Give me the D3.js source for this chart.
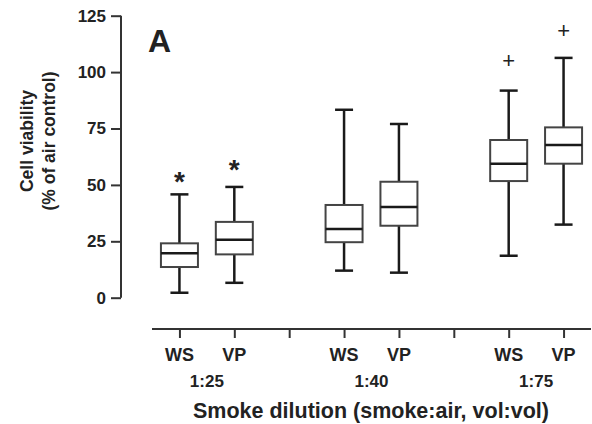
<!DOCTYPE html>
<html>
<head>
<meta charset="utf-8">
<script src="https://cdn.jsdelivr.net/npm/d3@7"></script>
<style>
  html, body { margin: 0; padding: 0; background: #fff; }
  text { font-family: "Liberation Sans", Arial, sans-serif; font-weight: bold; fill: #222; }
</style>
</head>
<body>
<svg id="chart" width="592" height="424"></svg>
<script>
// Dilution groups and smoke types
const dilutions = ["1:25", "1:40", "1:75"];
const smokeTypes = ["WS", "VP"];

// Box statistics per dilution × type, in % of air control
const whiskerLow  = [2.2, 6.6, 12.0, 11.1, 18.6, 32.4];
const quartile1   = [13.6, 19.2, 24.6, 31.9, 51.7, 59.4];
const medians     = [19.7, 25.7, 30.5, 40.2, 59.4, 67.7];
const quartile3   = [24.1, 33.6, 41.1, 51.4, 69.9, 75.5];
const whiskerHigh = [45.8, 49.1, 83.3, 77.0, 91.8, 106.3];

// Significance symbols and the level (centre) they sit at
const sigSymbols = ["*", "*", "", "", "+", "+"];
const sigLevels  = [54.4, 59.7, null, null, 105.4, 118.7];

const yTicks = [0, 25, 50, 75, 100, 125];

const svg = d3.select("#chart");

// Slot positions: WS/VP pairs with an empty slot between dilutions
const boxes = [];
dilutions.forEach((d, g) => {
  smokeTypes.forEach((t, k) => {
    const i = g * 2 + k;
    boxes.push({
      dilution: d, type: t, slot: g * 3 + k + 1,
      lo: whiskerLow[i], q1: quartile1[i], med: medians[i],
      q3: quartile3[i], hi: whiskerHigh[i],
      sym: sigSymbols[i], symY: sigLevels[i]
    });
  });
});

const x = d3.scaleLinear().domain([0.5, 8.5]).range([152, 591]);
const y = d3.scaleLinear().domain([0, 125]).range([297.7, 15.7]);

// Y axis
const yAxis = svg.append("g")
  .attr("transform", "translate(121,0)")
  .call(d3.axisLeft(y).tickValues(yTicks).tickSize(10).tickPadding(5));
yAxis.select(".domain").attr("stroke", "#333").attr("stroke-width", 2)
  .attr("d", `M0,${y(125)}V${y(0)}`);
yAxis.selectAll(".tick line").attr("stroke", "#333").attr("stroke-width", 2);
yAxis.selectAll(".tick text").style("font-size", "17px").attr("fill", "#222");

// X axis (detached below the plot)
const xAxis = svg.append("g")
  .attr("transform", "translate(0,329)")
  .call(d3.axisBottom(x).tickValues(d3.range(1, 9)).tickSize(9).tickFormat(""));
xAxis.select(".domain").attr("stroke", "#333").attr("stroke-width", 2)
  .attr("d", `M${x(0.5)},0H${x(8.5)}`);
xAxis.selectAll(".tick line").attr("stroke", "#333").attr("stroke-width", 2);

// Type labels under each box slot
svg.append("g").selectAll("text").data(boxes).join("text")
  .attr("x", d => x(d.slot)).attr("y", 361)
  .attr("text-anchor", "middle").style("font-size", "18px")
  .text(d => d.type);

// Dilution labels centred under each pair
svg.append("g").selectAll("text").data(dilutions).join("text")
  .attr("x", (d, g) => x(g * 3 + 1.5)).attr("y", 386.5)
  .attr("text-anchor", "middle").style("font-size", "17px")
  .text(d => d);

// Axis titles
svg.append("text")
  .attr("x", 371).attr("y", 417.5).attr("text-anchor", "middle")
  .style("font-size", "21.5px")
  .text("Smoke dilution (smoke:air, vol:vol)");

const yTitle = svg.append("text")
  .attr("transform", "translate(0,141) rotate(-90)")
  .attr("text-anchor", "middle").style("font-size", "17.5px");
yTitle.append("tspan").attr("x", 0).attr("y", 33).text("Cell viability");
yTitle.append("tspan").attr("x", 0).attr("y", 55).text("(% of air control)");

// Panel letter
svg.append("text").attr("x", 148).attr("y", 52)
  .style("font-size", "32px").text("A");

// Box plots
const boxW = 37, capW = 18;
const g = svg.append("g").selectAll("g").data(boxes).join("g");

g.append("line")
  .attr("x1", d => x(d.slot)).attr("x2", d => x(d.slot))
  .attr("y1", d => y(d.hi)).attr("y2", d => y(d.q3))
  .attr("stroke", "#1a1a1a").attr("stroke-width", 2.5);
g.append("line")
  .attr("x1", d => x(d.slot)).attr("x2", d => x(d.slot))
  .attr("y1", d => y(d.q1)).attr("y2", d => y(d.lo))
  .attr("stroke", "#1a1a1a").attr("stroke-width", 2.5);
g.append("line")
  .attr("x1", d => x(d.slot) - capW / 2).attr("x2", d => x(d.slot) + capW / 2)
  .attr("y1", d => y(d.hi)).attr("y2", d => y(d.hi))
  .attr("stroke", "#1a1a1a").attr("stroke-width", 2.5);
g.append("line")
  .attr("x1", d => x(d.slot) - capW / 2).attr("x2", d => x(d.slot) + capW / 2)
  .attr("y1", d => y(d.lo)).attr("y2", d => y(d.lo))
  .attr("stroke", "#1a1a1a").attr("stroke-width", 2.5);
g.append("rect")
  .attr("x", d => x(d.slot) - boxW / 2).attr("width", boxW)
  .attr("y", d => y(d.q3)).attr("height", d => y(d.q1) - y(d.q3))
  .attr("fill", "#fff").attr("stroke", "#444").attr("stroke-width", 2);
g.append("line")
  .attr("x1", d => x(d.slot) - boxW / 2).attr("x2", d => x(d.slot) + boxW / 2)
  .attr("y1", d => y(d.med)).attr("y2", d => y(d.med))
  .attr("stroke", "#1a1a1a").attr("stroke-width", 2.5);

// Significance symbols; the glyph centre sits a fixed fraction of the em above the baseline
const symSize = { "*": 28, "+": 22 };
const symCentre = { "*": 0.57, "+": 0.355 };
g.filter(d => d.sym).append("text")
  .attr("x", d => x(d.slot))
  .attr("y", d => y(d.symY) + symSize[d.sym] * symCentre[d.sym])
  .attr("text-anchor", "middle")
  .style("font-size", d => symSize[d.sym] + "px")
  .style("font-weight", d => d.sym === "+" ? "normal" : "bold")
  .text(d => d.sym);
</script>
</body>
</html>
